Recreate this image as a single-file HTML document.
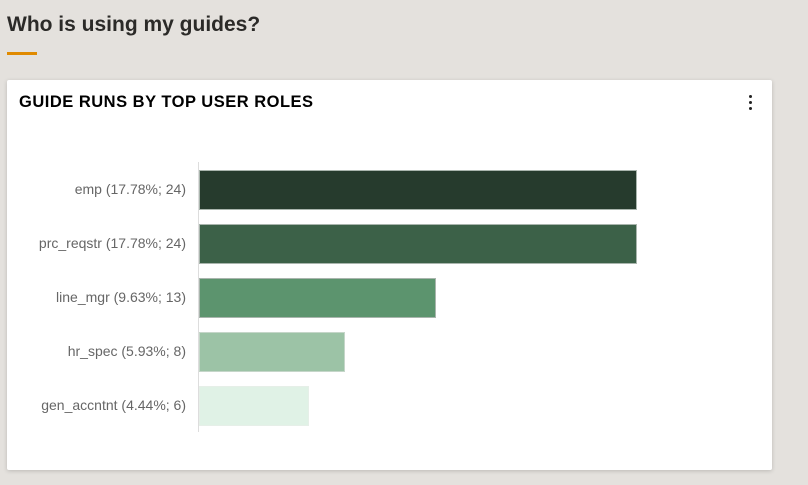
<!DOCTYPE html>
<html><head><meta charset="utf-8"><style>
body{margin:0;width:808px;height:485px;background:#e4e1dd;font-family:"Liberation Sans",sans-serif;position:relative;overflow:hidden}
h1{position:absolute;left:7px;top:13px;margin:0;font-size:21px;font-weight:bold;color:#2b2a28}
.ul{position:absolute;left:7px;top:52px;width:30px;height:3px;background:#e08a00}
.card{position:absolute;left:7px;top:80px;width:765px;height:390px;background:#fff;border-radius:2px;box-shadow:0 1px 4px rgba(0,0,0,.18)}
.ct{position:absolute;left:19px;top:93px;font-size:16.5px;font-weight:bold;color:#000;letter-spacing:0.5px}
.dots{position:absolute;left:749px;top:95px;width:3px}
.dots i{display:block;width:3px;height:3px;background:#222;border-radius:50%;margin-bottom:3px}
.axis{position:absolute;left:198px;top:162px;width:1px;height:270px;background:#ddd}
.bar{position:absolute;left:199px;height:40px;box-sizing:border-box;border:1px solid #a9b5ad}
.lbl{position:absolute;right:622px;font-size:14px;color:#666;white-space:nowrap}
</style></head><body>
<h1>Who is using my guides?</h1><div class="ul"></div>
<div class="card"></div>
<div class="ct">GUIDE RUNS BY TOP USER ROLES</div>
<div class="dots"><i></i><i></i><i></i></div>
<div class="axis"></div>
<div class="bar" style="top:170px;width:438px;background:#263b2d"></div>
<div class="bar" style="top:224px;width:438px;background:#3c6148"></div>
<div class="bar" style="top:278px;width:237px;background:#5c946e"></div>
<div class="bar" style="top:332px;width:146px;background:#9cc3a6;border-color:#c5d6c9"></div>
<div class="bar" style="top:386px;width:110px;background:#e0f2e6;border-color:#e6efe8"></div>
<div class="lbl" style="top:181px">emp (17.78%; 24)</div>
<div class="lbl" style="top:235px">prc_reqstr (17.78%; 24)</div>
<div class="lbl" style="top:289px">line_mgr (9.63%; 13)</div>
<div class="lbl" style="top:343px">hr_spec (5.93%; 8)</div>
<div class="lbl" style="top:397px">gen_accntnt (4.44%; 6)</div>
</body></html>
